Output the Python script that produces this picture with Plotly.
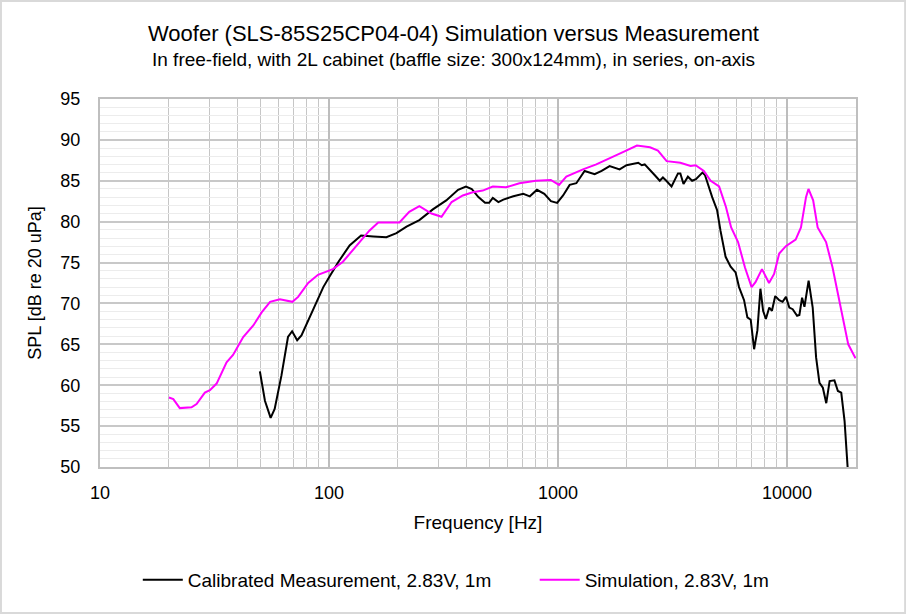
import plotly.graph_objects as go

# 仿真曲线 (Simulation, 2.83V, 1m)
sim_freq = [20, 20.9, 22.3, 25.1, 26.4, 28.7, 30.2, 32.3, 35.7, 38.1, 42.2, 46.7, 50.8,
            55.3, 61.0, 69.2, 73.3, 81.1, 89.5, 104, 115, 131, 150, 164, 203, 224, 248,
            280, 310, 343, 384, 424, 469, 519, 593, 678, 800, 930, 1010, 1087, 1285,
            1469, 1679, 1920, 2210, 2520, 2730, 2980, 3420, 3790, 3990, 4330, 4640,
            5050, 5410, 5700, 6110, 6550, 7000, 7280, 7770, 8340, 8780, 9240, 9880,
            10900, 11500, 12100, 12400, 13000, 13600, 14800, 15800, 17000, 18500, 19900]
sim_spl = [58.5, 58.3, 57.2, 57.3, 57.7, 59.1, 59.4, 60.2, 62.8, 63.7, 65.9, 67.3, 68.9,
           70.2, 70.5, 70.2, 70.8, 72.5, 73.5, 74.2, 75.1, 76.9, 78.9, 79.9, 79.9, 81.2, 81.9,
           81.0, 80.6, 82.4, 83.2, 83.6, 83.8, 84.3, 84.2, 84.7, 85.0, 85.1, 84.5, 85.5, 86.4,
           87.0, 87.7, 88.5, 89.3, 89.1, 88.7, 87.4, 87.2, 86.8, 86.9, 86.2, 85.0,
           84.3, 81.8, 79.3, 77.5, 74.4, 72.0, 72.6, 74.2, 72.5, 73.6, 76.1, 77.0,
           77.8, 79.3, 83.0, 84.0, 82.6, 79.3, 77.5, 74.4, 70.0, 65.0, 63.3]

# 实测曲线 (Calibrated Measurement, 2.83V, 1m)
meas_freq = [49.9, 52.5, 55.6, 57.9, 62.0, 66.2, 69.0, 72.6, 75.8, 81.1, 88.1, 94.4, 101,
             110, 123, 138, 156, 178, 197, 218, 248, 284, 325, 366, 396, 420, 449, 480,
             500, 519, 549, 577, 638, 705, 753, 809, 871, 931, 991, 1052, 1124, 1202,
             1306, 1445, 1550, 1680, 1857, 1990, 2240, 2320, 2390, 2510, 2640, 2780,
             2870, 2970, 3130, 3340, 3420, 3530, 3690, 3850, 4000, 4270, 4380, 4710,
             4950, 5120, 5390, 5670, 5960, 6170, 6490, 6710, 6940, 7180, 7420, 7650,
             7860, 8080, 8360, 8590, 8880, 9240, 9560, 9890, 10230, 10580, 11060, 11320,
             11630, 11910, 12420, 12940, 13390, 13850, 14330, 14830, 15340, 16100,
             16670, 17240, 17830, 18380, 18700]
meas_spl = [61.7, 58.1, 56.0, 57.1, 61.2, 65.9, 66.6, 65.5, 66.1, 67.9, 70.2, 72.0, 73.4,
            75.1, 77.1, 78.3, 78.2, 78.1, 78.6, 79.4, 80.2, 81.5, 82.6, 83.9, 84.3, 84.0, 83.0, 82.3,
            82.3, 82.9, 82.4, 82.7, 83.1, 83.4, 83.1, 83.9, 83.4, 82.5, 82.3, 83.2, 84.5, 84.7,
            86.2, 85.8, 86.2, 86.8, 86.4, 86.9, 87.2, 86.9, 87.0, 86.4, 85.7, 85.0,
            85.4, 85.0, 84.3, 85.9, 85.9, 84.6, 85.5, 85.0, 85.2, 86.0, 85.7, 83.0,
            81.4, 78.9, 75.7, 74.5, 73.8, 72.0, 70.4, 68.3, 68.0, 64.4, 66.7, 71.8,
            69.1, 68.1, 69.5, 69.1, 70.9, 70.4, 70.2, 70.8, 69.5, 69.3, 68.5, 68.6,
            70.7, 69.6, 72.8, 69.5, 63.4, 60.3, 59.7, 57.8, 60.5, 60.6,
            59.3, 59.1, 55.6, 50.0, 46.0]

x_ticks = [10, 100, 1000, 10000]
x_labels = ['10', '100', '1000', '10000']

font = 'Liberation Sans, Arial, sans-serif'

fig = go.Figure()
fig.add_trace(go.Scatter(x=meas_freq, y=meas_spl, mode='lines',
                         name='Calibrated Measurement, 2.83V, 1m',
                         line=dict(color='black', width=2), legend='legend'))
fig.add_trace(go.Scatter(x=sim_freq, y=sim_spl, mode='lines',
                         name='Simulation, 2.83V, 1m',
                         line=dict(color='#ff00ff', width=2), legend='legend2'))

legend_style = dict(orientation='h', xanchor='left', y=-0.307, yanchor='middle',
                    font=dict(size=19), itemwidth=40, bgcolor='rgba(0,0,0,0)')

fig.update_layout(
    width=906, height=614,
    margin=dict(l=100, r=50, t=99, b=147),
    paper_bgcolor='white', plot_bgcolor='white',
    font=dict(family=font, size=18, color='black'),
    showlegend=True,
    legend=dict(x=0.05, **legend_style),
    legend2=dict(x=0.575, **legend_style),
)

fig.update_xaxes(type='log', range=[1, 4.301],
                 tickvals=x_ticks, ticktext=x_labels, ticks='',
                 showgrid=True, gridcolor='#bdbdbd', gridwidth=1.5,
                 minor=dict(dtick='D1', showgrid=True, gridcolor='#c6c6c6', gridwidth=1, ticks=''),
                 showline=True, linecolor='#bfbfbf', linewidth=2, mirror=True,
                 zeroline=False, ticklabelstandoff=8,
                 title=dict(text='Frequency [Hz]', font=dict(size=19), standoff=14),
                 tickfont=dict(size=18))
fig.update_yaxes(range=[50, 95], dtick=5, ticks='',
                 showgrid=True, gridcolor='#c8c8c8', gridwidth=1.5,
                 minor=dict(dtick=1, showgrid=True, gridcolor='#ececec', gridwidth=1, ticks=''),
                 showline=True, linecolor='#bfbfbf', linewidth=2, mirror=True,
                 zeroline=False, ticklabelstandoff=14,
                 title=dict(text='SPL [dB re 20 uPa]', font=dict(size=18), standoff=14),
                 tickfont=dict(size=18))

# 标题和副标题
fig.add_annotation(text='Woofer (SLS-85S25CP04-04) Simulation versus Measurement',
                   xref='paper', yref='paper', x=0.467, y=1.179, showarrow=False,
                   font=dict(size=22), xanchor='center', yanchor='middle')
fig.add_annotation(text='In free-field, with 2L cabinet (baffle size: 300x124mm), in series, on-axis',
                   xref='paper', yref='paper', x=0.467, y=1.106, showarrow=False,
                   font=dict(size=19), xanchor='center', yanchor='middle')

# 外框
fig.add_shape(type='rect', xref='paper', yref='paper',
              x0=-0.131, x1=1.065, y0=-0.397, y1=1.266,
              line=dict(color='#d9d9d9', width=2))

fig.write_html('out.html', config={'displayModeBar': False},
               post_script="document.body.style.margin='0';")
